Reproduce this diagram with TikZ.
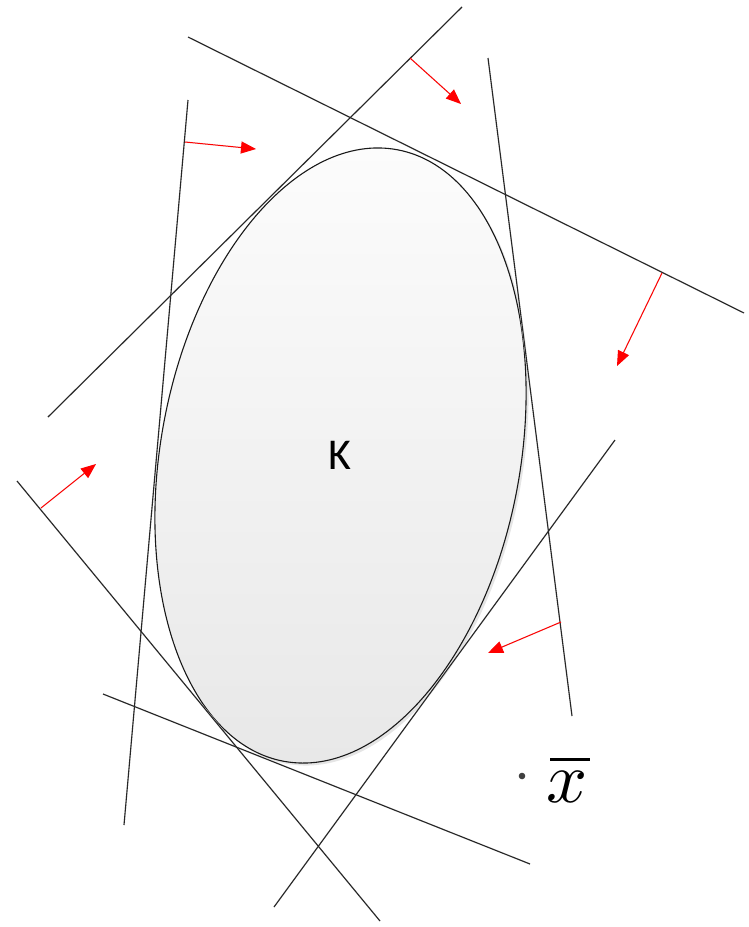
\documentclass[tikz,border=0pt]{standalone}
\usepackage{fontspec}
\usetikzlibrary{arrows.meta,shapes.geometric}
\newfontfamily\labelfont{Carlito}
\begin{document}
\begin{tikzpicture}[x=1pt,y=-1pt,
  hyper/.style={draw=black!85,line width=1.1pt},
  hshadow/.style={draw=black!10,line width=1.6pt},
  normal/.style={draw=red,line width=1pt,-{Triangle[length=15pt,width=12pt]}},
  nshadow/.style={draw=black!8,line width=1.4pt,-{Triangle[length=15pt,width=12pt]},fill=black!8}]
\useasboundingbox (0,0) rectangle (749,927);
% coordinates of the half-plane boundaries
\coordinate (a1) at (188,100); \coordinate (a2) at (124,825);
\coordinate (b1) at (462,7);   \coordinate (b2) at (48,417);
\coordinate (c1) at (188,37);  \coordinate (c2) at (744,313);
\coordinate (d1) at (488,58);  \coordinate (d2) at (572,716);
\coordinate (e1) at (615,440); \coordinate (e2) at (274,907);
\coordinate (f1) at (17,481);  \coordinate (f2) at (380,921);
\coordinate (g1) at (103,694); \coordinate (g2) at (530,864);
% arrow coordinates
\coordinate (pa) at (185,142); \coordinate (qa) at (256,149);
\coordinate (pb) at (410,58);  \coordinate (qb) at (461,104);
\coordinate (pc) at (662,273); \coordinate (qc) at (617,366);
\coordinate (pd) at (561,622); \coordinate (qd) at (488,653);
\coordinate (pf) at (41,508);  \coordinate (qf) at (96,464);
% ellipse shadow
\fill[black!10,rotate around={-10.5:(343,458)}] (343,458) ellipse [x radius=179.7pt, y radius=311pt];
% the convex set K
\node[ellipse,draw=black!90,line width=1.1pt,minimum width=359.4pt,minimum height=622pt,inner sep=0pt,
  rotate=-10.5,top color=black!1,bottom color=black!9] (K) at (340.5,455.5) {};
\node[font=\labelfont\fontsize{44}{48}\selectfont] (Klabel) at (340,455) {K};
% shadows of lines
\begin{scope}[shift={(1.5,1.5)}]
\foreach \s/\t in {a1/a2,b1/b2,c1/c2,d1/d2,e1/e2,f1/f2,g1/g2} \draw[hshadow] (\s) -- (\t);
\foreach \s/\t in {pa/qa,pb/qb,pc/qc,pd/qd,pf/qf} \draw[nshadow] (\s) -- (\t);
\end{scope}
% lines
\foreach \s/\t in {a1/a2,b1/b2,c1/c2,d1/d2,e1/e2,f1/f2,g1/g2} \draw[hyper] (\s) -- (\t);
% normals
\foreach \s/\t in {pa/qa,pb/qb,pc/qc,pd/qd,pf/qf} \draw[normal] (\s) -- (\t);
% the point x-bar
\fill[black!75] (522,776) circle (3.3pt);
\node[inner sep=0pt,scale=7.2] (xb) at (567,787) {$x$};
\coordinate (bl) at (550,759); \coordinate (br) at (590,759);
\draw[line width=3pt,black] (bl) -- (br);
\end{tikzpicture}
\end{document}
